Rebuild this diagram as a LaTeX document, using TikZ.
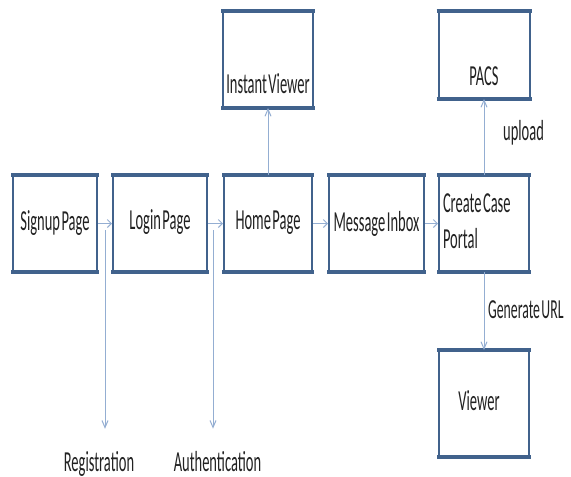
\documentclass[tikz,border=0pt]{standalone}
\usepackage{fontspec}
\setmainfont[FakeStretch=0.5, WordSpace=0.45]{Carlito}
\usetikzlibrary{arrows.meta}
\definecolor{boxblue}{HTML}{41628C}
\definecolor{arrowblue}{HTML}{94AED2}
\definecolor{txt}{HTML}{222222}
\newcommand{\lowtext}[2]{\raisebox{-#1pt}[0pt][0pt]{#2}}
\begin{document}
\begin{tikzpicture}[x=1pt,y=-1pt,
  box/.style={draw=boxblue, line width=2pt, fill=white, inner sep=0pt, text=txt,
    font=\fontsize{29}{36}\selectfont},
  boxedge/.style={boxblue, line width=3.5pt, shorten <=-1pt, shorten >=-1pt},
  harrow/.style={draw=arrowblue, line width=1pt, -{Straight Barb[length=4pt,width=8pt]}},
  varrow/.style={draw=arrowblue, line width=1pt, -{Straight Barb[length=7pt,width=6pt]}},
  lbl/.style={text=txt, font=\fontsize{29}{36}\selectfont, inner sep=0pt}]
\useasboundingbox[fill=white] (0,0) rectangle (571,477);
% boxes
\node[box, minimum width=84pt, minimum height=95pt] (signup) at (55,223.5) {\lowtext{7}{Signup Page}};
\node[box, minimum width=94pt, minimum height=95pt] (login) at (160,223.5) {\lowtext{5.5}{Login Page}};
\node[box, minimum width=88pt, minimum height=95pt] (home) at (268,223.5) {\lowtext{5.5}{Home Page}};
\node[box, minimum width=95pt, minimum height=95pt] (msg) at (376.5,223.5) {\lowtext{8}{Message Inbox}};
\node[box, minimum width=90pt, minimum height=95pt] (create) at (484,223.5)
  {\makebox[82pt][l]{\begin{tabular}{@{}l@{}}Create Case\\Portal\end{tabular}}};
\node[box, minimum width=90pt, minimum height=95pt] (instant) at (268,59.5) {\lowtext{34}{Instant Viewer}};
\node[box, minimum width=91pt, minimum height=86pt] (pacs) at (484,55) {\lowtext{30.5}{PACS}};
\node[box, minimum width=90pt, minimum height=105pt] (viewer) at (484,403.5) {\lowtext{7}{\kern-10pt Viewer}};
\foreach \n in {signup,login,home,msg,create,instant,pacs,viewer}{
  \draw[boxedge] (\n.north west) -- (\n.north east);
  \draw[boxedge] (\n.south west) -- (\n.south east);
}
% labels
\node[lbl, anchor=base] (reg) at (99,471) {Registration};
\node[lbl, anchor=base] (auth) at (217.5,471) {Authentication};
\node[lbl, anchor=base west] (upl) at (503,140) {upload};
\node[lbl, anchor=base west, font=\fontsize{27.5}{30}\selectfont] (gen) at (488,318) {Generate URL};
% connectors
\draw[harrow] (signup) -- (login);
\draw[harrow] (login) -- (home);
\draw[harrow] (home) -- (msg);
\draw[harrow] (msg) -- (create);
\draw[varrow] (home) -- (instant);
\draw[varrow] (create) -- (pacs);
\draw[varrow] (create) -- (viewer);
\coordinate (r0) at (105,230);
\coordinate (a0) at (213,230);
\draw[varrow, shorten >=22pt] (r0) -- (r0 |- reg.north);
\draw[varrow, shorten >=22pt] (a0) -- (a0 |- auth.north);
\end{tikzpicture}
\end{document}
